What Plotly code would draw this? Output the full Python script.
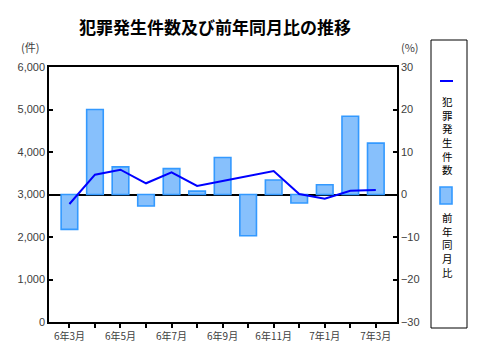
import plotly.graph_objects as go

months = ["6年3月", "6年4月", "6年5月", "6年6月", "6年7月", "6年8月", "6年9月",
          "6年10月", "6年11月", "6年12月", "7年1月", "7年2月", "7年3月"]
counts = [2776, 3466, 3584, 3264, 3522, 3200, 3318, 3435, 3553, 3012, 2901, 3089, 3106]
yoy_pct = [-8.2, 20.0, 6.5, -2.7, 6.1, 0.8, 8.7, -9.7, 3.4, -2.0, 2.3, 18.4, 12.1]

x_idx = list(range(len(months)))
tick_text = [m if i % 2 == 0 else "" for i, m in enumerate(months)]

# page body has an 8px margin; figure occupies screen 8..480 x 8..360
OFF = 8
W, H = 480 - OFF, 360 - OFF
L, R, T, B = 49, 397, 67, 322  # plot area in screen pixels


def px(x):
    return (x - L) / (R - L)


def py(y):
    return (B - y) / (B - T)


FONT = "Liberation Sans, Noto Sans CJK JP, sans-serif"
CJK = "Noto Sans CJK JP, sans-serif"
TICKC = "#404040"
BAR_FILL = "rgb(135,192,252)"
BAR_LINE = "rgb(51,153,255)"

fig = go.Figure()
fig.add_trace(go.Bar(
    x=x_idx, y=yoy_pct, yaxis="y", width=0.65,
    marker=dict(color=BAR_FILL, line=dict(color=BAR_LINE, width=1.6)),
    name="前年同月比", showlegend=False,
))
fig.add_trace(go.Scatter(
    x=x_idx, y=counts, yaxis="y2", mode="lines",
    line=dict(color="#0000FF", width=2),
    name="犯罪発生件数", showlegend=False,
))

fig.update_layout(
    width=W, height=H,
    margin=dict(l=L - OFF, r=480 - R, t=T - OFF, b=360 - B, autoexpand=False),
    paper_bgcolor="white", plot_bgcolor="white",
    font=dict(family=FONT, size=11, color=TICKC),
    showlegend=False,
    xaxis=dict(
        range=[-0.8, 12.83], tickvals=x_idx, ticktext=tick_text,
        showline=True, linecolor="black", linewidth=1.5, mirror=True,
        ticks="outside", ticklen=4, tickcolor="black", tickwidth=1.5,
        showgrid=False, zeroline=False,
        tickfont=dict(family=CJK, size=10, color=TICKC),
    ),
    yaxis=dict(
        range=[-30, 30], side="right", tickvals=[-30, -20, -10, 0, 10, 20, 30],
        showline=True, linecolor="black", linewidth=1.5, mirror=True,
        ticks="inside", ticklen=4, tickcolor="black", tickwidth=1.5,
        showgrid=False, zeroline=True, zerolinecolor="black", zerolinewidth=1.5,
        tickfont=dict(size=11, color=TICKC),
    ),
    yaxis2=dict(
        range=[0, 6000], side="left", overlaying="y",
        tickvals=[0, 1000, 2000, 3000, 4000, 5000, 6000],
        tickformat=",d",
        showline=True, linecolor="black", linewidth=1.5,
        ticks="inside", ticklen=4, tickcolor="black", tickwidth=1.5,
        showgrid=False, zeroline=False,
        tickfont=dict(size=11, color=TICKC),
    ),
)

# title
fig.add_annotation(text="<b>犯罪発生件数及び前年同月比の推移</b>", xref="paper", yref="paper",
                   x=px(215), y=py(27), showarrow=False,
                   font=dict(family=CJK, size=17, color="black"),
                   xanchor="center", yanchor="middle")
fig.add_annotation(text="(件)", xref="paper", yref="paper", x=px(30), y=py(47),
                   showarrow=False, font=dict(family=CJK, size=11, color=TICKC),
                   xanchor="center", yanchor="middle")
fig.add_annotation(text="(%)", xref="paper", yref="paper", x=px(410), y=py(47),
                   showarrow=False, font=dict(family=CJK, size=11, color=TICKC),
                   xanchor="center", yanchor="middle")

# legend box
fig.add_shape(type="rect", xref="paper", yref="paper",
              x0=px(431), x1=px(467), y0=py(328), y1=py(40),
              line=dict(color="black", width=1), fillcolor="white", layer="below")
fig.add_shape(type="line", xref="paper", yref="paper",
              x0=px(440), x1=px(453), y0=py(81), y1=py(81),
              line=dict(color="#0000FF", width=2))
fig.add_annotation(text="<br>".join("犯罪発生件数"), xref="paper", yref="paper",
                   x=px(447), y=py(135), showarrow=False,
                   font=dict(family=CJK, size=10.5, color="black"),
                   xanchor="center", yanchor="middle", align="center")
fig.add_shape(type="rect", xref="paper", yref="paper",
              x0=px(440), x1=px(452), y0=py(204), y1=py(187),
              line=dict(color=BAR_LINE, width=1.6), fillcolor=BAR_FILL)
fig.add_annotation(text="<br>".join("前年同月比"), xref="paper", yref="paper",
                   x=px(447), y=py(245), showarrow=False,
                   font=dict(family=CJK, size=10.5, color="black"),
                   xanchor="center", yanchor="middle", align="center")

fig.write_html("out.html")
